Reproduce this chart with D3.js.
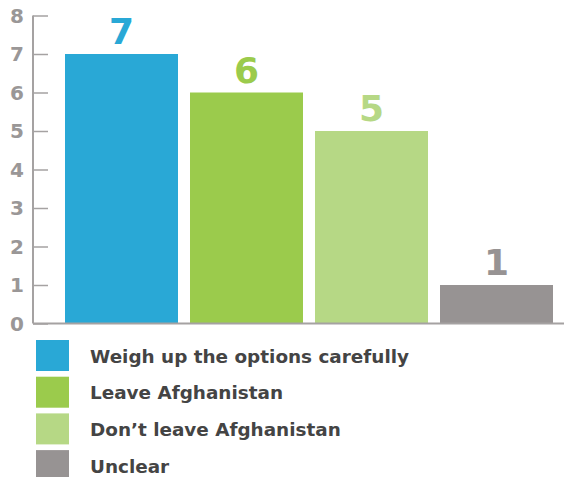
<!DOCTYPE html>
<html>
<head>
<meta charset="utf-8">
<script src="https://cdn.jsdelivr.net/npm/d3@7"></script>
<style>
  body { margin: 0; background: #fff; }
  svg { display: block; font-family: "DejaVu Sans", sans-serif; font-weight: bold; }
</style>
</head>
<body>
<div id="chart"></div>
<script>
var categories = ["Weigh up the options carefully", "Leave Afghanistan", "Don\u2019t leave Afghanistan", "Unclear"];
var values = [7, 6, 5, 1];
var colors = ["#29a8d6", "#9bcb4c", "#b6d885", "#979393"];
var yTicks = [0, 1, 2, 3, 4, 5, 6, 7, 8];

var width = 564, height = 477;

var svg = d3.select("#chart").append("svg")
  .attr("width", width)
  .attr("height", height);

var x = d3.scaleBand()
  .domain(categories)
  .range([65, 553])
  .paddingInner(0.096)
  .paddingOuter(0);

var y = d3.scaleLinear()
  .domain([0, 8])
  .range([323.5, 15.5]);

// y axis, ticks on the right side of the line
var yAxis = svg.append("g")
  .attr("transform", "translate(33,0)")
  .call(d3.axisRight(y).tickValues(yTicks).tickSize(15).tickFormat(""));
yAxis.select(".domain").attr("stroke", "#a5a2a2").attr("stroke-width", 2)
  .attr("d", "M0," + y(8) + "V" + y(0));
yAxis.selectAll(".tick line").attr("stroke", "#a5a2a2").attr("stroke-width", 1.5);

svg.append("g").selectAll("text")
  .data(yTicks)
  .enter().append("text")
  .attr("x", 17)
  .attr("y", d => y(d))
  .attr("dy", "0.36em")
  .attr("text-anchor", "middle")
  .attr("fill", "#9a9797")
  .attr("font-size", 20)
  .text(d => d);

// bars
svg.append("g").selectAll("rect")
  .data(values)
  .enter().append("rect")
  .attr("x", (d, i) => x(categories[i]))
  .attr("y", d => y(d))
  .attr("width", x.bandwidth())
  .attr("height", d => y(0) - y(d))
  .attr("fill", (d, i) => colors[i]);

// baseline
svg.append("line")
  .attr("x1", 33).attr("x2", width)
  .attr("y1", y(0)).attr("y2", y(0))
  .attr("stroke", "#a5a2a2").attr("stroke-width", 2);

// value labels
svg.append("g").selectAll("text")
  .data(values)
  .enter().append("text")
  .attr("x", (d, i) => x(categories[i]) + x.bandwidth() / 2)
  .attr("y", d => y(d) - 10)
  .attr("text-anchor", "middle")
  .attr("fill", (d, i) => colors[i])
  .attr("font-size", 36)
  .text(d => d);

// legend
var legend = svg.append("g").selectAll("g")
  .data(categories)
  .enter().append("g")
  .attr("transform", (d, i) => "translate(36," + (340 + i * 36.7) + ")");

legend.append("rect")
  .attr("width", 33)
  .attr("height", 31)
  .attr("fill", (d, i) => colors[i]);

legend.append("text")
  .attr("x", 54)
  .attr("y", 16)
  .attr("dy", "0.36em")
  .attr("fill", "#444")
  .attr("font-size", 18.4)
  .text(d => d);
</script>
</body>
</html>
